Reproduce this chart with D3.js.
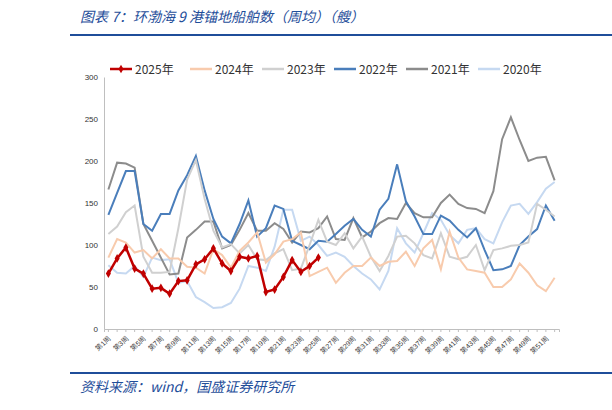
<!DOCTYPE html>
<html><head><meta charset="utf-8">
<script src="https://cdn.jsdelivr.net/npm/d3@7"></script>
<style>body{margin:0;background:#fff;font-family:"Noto Sans CJK SC","Liberation Sans",sans-serif;}</style>
</head><body><svg id="c" width="612" height="410"></svg>
<script>
// weekly averages, 9 ports anchorage
var weeks = d3.range(1, 53).map(function(d){ return "第" + d + "周"; });
var years = ["2025年", "2024年", "2023年", "2022年", "2021年", "2020年"];
var colors = ["#c00000", "#f8cbad", "#d0d0d0", "#4a7ebb", "#8c8c8c", "#c6d9f1"];
var yTicks = [0, 50, 100, 150, 200, 250, 300];

var s2025 = [66,84,97,72,66,48,49,42,57,58,77,83,96,78,69,86,84,87,44,47,62,82,68,75,85];
var s2024 = [85,107,103,91,94,84,95,84,84,74,73,66,95,88,73,93,103,115,79,89,104,107,115,63,68,
  73,55,67,75,75,85,75,80,81,92,75,96,106,71,116,85,71,69,67,50,50,59,78,67,52,45,61];
var s2023 = [113,122,139,147,86,67,67,68,120,178,201,155,117,97,101,90,100,83,82,90,95,70,72,100,130,
  104,100,114,96,110,86,69,87,110,111,102,88,84,114,86,83,86,100,70,94,96,99,100,103,149,142,134];
var s2022 = [136,162,188,188,125,117,137,137,165,183,206,165,131,110,102,125,153,110,120,147,143,105,100,95,105,
  104,113,123,131,118,110,142,155,196,152,134,113,113,135,129,118,109,120,94,70,71,75,100,110,119,147,129];
var s2021 = [166,198,197,192,125,105,85,65,66,109,118,128,128,96,100,118,138,117,117,126,119,103,116,115,120,
  134,107,106,132,109,116,126,132,131,150,138,133,133,150,160,149,144,143,138,164,226,252,225,200,204,205,177];
var s2020 = [76,67,66,75,62,85,82,83,55,57,38,32,25,26,31,48,75,73,69,98,142,142,105,110,100,
  87,91,86,75,66,59,47,69,120,102,91,114,138,130,112,102,118,120,107,102,127,147,149,137,151,167,175];
var series = [s2025, s2024, s2023, s2022, s2021, s2020];

var svg = d3.select("#c");
var blue = "#1f4e9a";

// title + rules
svg.append("text").attr("x", 80).attr("y", 22).attr("fill", blue)
  .style("font-size", "14px").style("font-style", "italic")
  .text("图表 7：环渤海 9 港锚地船舶数（周均）（艘）");
svg.append("rect").attr("x", 70).attr("y", 34).attr("width", 542).attr("height", 2).attr("fill", blue);
svg.append("rect").attr("x", 70).attr("y", 372).attr("width", 542).attr("height", 2).attr("fill", blue);
svg.append("text").attr("x", 80).attr("y", 392).attr("fill", blue)
  .style("font-size", "14px").style("font-style", "italic")
  .text("资料来源：wind，国盛证券研究所");

var x = d3.scaleBand().domain(weeks).range([104, 559]);
var y = d3.scaleLinear().domain([0, 300]).range([329, 77]);

var gy = svg.append("g").attr("transform", "translate(104,0)")
  .call(d3.axisLeft(y).tickValues(yTicks).tickSize(0).tickPadding(6));
gy.select(".domain").attr("stroke", "#bfbfbf");
gy.selectAll("text").style("font-size", "8px").attr("fill", "#333").style("font-family", "Liberation Sans");

var gx = svg.append("g").attr("transform", "translate(0,329)")
  .call(d3.axisBottom(x).tickSize(3).tickFormat(function(d, i){ return i % 2 == 0 ? d : ""; }));
gx.select(".domain").attr("stroke", "#bfbfbf");
gx.selectAll("line").attr("stroke", "#bfbfbf");
gx.selectAll("text").style("font-size", "7px").attr("fill", "#333")
  .attr("text-anchor", "end").attr("transform", "translate(-3,4) rotate(-45)").attr("dy", "0.3em");

var line = d3.line().x(function(d, i){ return x(weeks[i]) + x.bandwidth() / 2; }).y(function(d){ return y(d); });

// draw older years first so 2025 sits on top
for (var k = series.length - 1; k >= 0; k--) {
  svg.append("path").datum(series[k]).attr("d", line).attr("fill", "none")
    .attr("stroke", colors[k]).attr("stroke-width", k == 0 ? 2.5 : 2);
}
svg.selectAll(".mk").data(s2025).enter().append("path")
  .attr("d", d3.symbol(d3.symbolDiamond, 22))
  .attr("transform", function(d, i){ return "translate(" + (x(weeks[i]) + x.bandwidth() / 2) + "," + y(d) + ")"; })
  .attr("fill", colors[0]);

// legend
var lx = [110, 190, 262, 334, 406, 478];
years.forEach(function(t, i){
  var g = svg.append("g").attr("transform", "translate(" + lx[i] + ",69)");
  g.append("line").attr("x1", 0).attr("x2", 22).attr("stroke", colors[i]).attr("stroke-width", 2.5);
  if (i == 0) g.append("path").attr("d", d3.symbol(d3.symbolDiamond, 22)).attr("transform", "translate(11,0)").attr("fill", colors[0]);
  g.append("text").attr("x", 25).attr("y", 4.5).style("font-size", "12px").attr("fill", "#333").text(t);
});
</script></body></html>
